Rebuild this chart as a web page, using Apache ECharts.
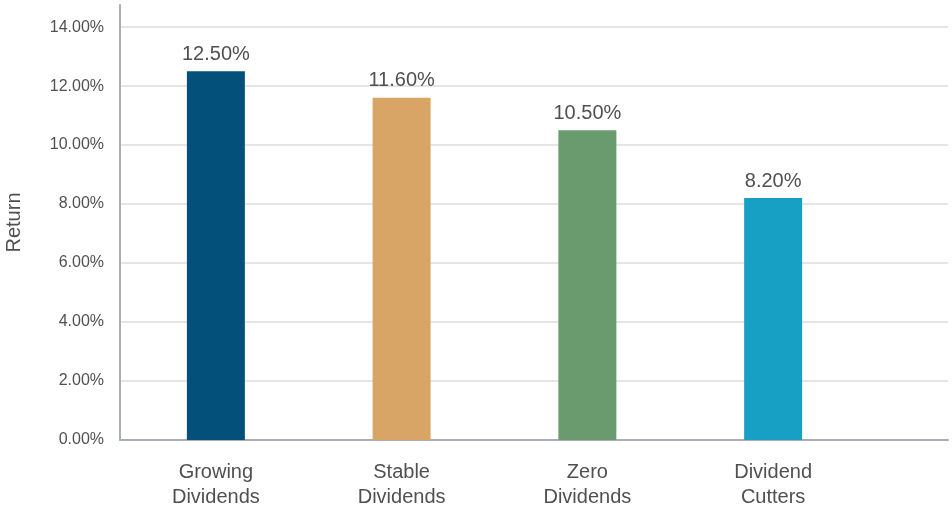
<!DOCTYPE html>
<html>
<head>
<meta charset="utf-8">
<script src="https://cdn.jsdelivr.net/npm/echarts@6/dist/echarts.min.js"></script>
<style>
  html, body { margin: 0; padding: 0; background: #fff; }
  #chart { width: 952px; height: 508px; }
</style>
</head>
<body>
<div id="chart"></div>
<script>
// Average annual return by dividend policy
const categories = ['Growing\nDividends', 'Stable\nDividends', 'Zero\nDividends', 'Dividend\nCutters'];
const returns = [12.5, 11.6, 10.5, 8.2];
const barColors = ['#03507B', '#D8A566', '#6A9B6E', '#17A0C3'];
const yTicks = [0, 2, 4, 6, 8, 10, 12, 14];

const FONT = '"Liberation Sans", Arial, sans-serif';
const TEXT = '#505050';
const AXIS = '#A9ADB5';

const chart = echarts.init(document.getElementById('chart'));

chart.setOption({
  animation: false,
  textStyle: { fontFamily: FONT },
  grid: [
    // frame: axis lines, gridlines, tick labels
    { left: 120, right: 4, top: 5, bottom: 68, containLabel: false, outerBoundsMode: 'none' },
    // bars
    { left: 123, width: 743, top: 27, bottom: 68, containLabel: false, outerBoundsMode: 'none' }
  ],
  xAxis: [
    {
      gridIndex: 0, type: 'value', min: 0, max: 1,
      axisLine: { show: true, onZero: false, lineStyle: { color: AXIS, width: 2 } },
      axisTick: { show: false }, axisLabel: { show: false }, splitLine: { show: false }
    },
    {
      gridIndex: 1, type: 'category', data: categories,
      axisLine: { show: false }, axisTick: { show: false },
      axisLabel: {
        margin: 20, color: TEXT, fontSize: 20, lineHeight: 25, fontFamily: FONT
      }
    }
  ],
  yAxis: [
    {
      gridIndex: 0, type: 'value', min: 0, max: 14.75, interval: 2,
      name: 'Return', nameLocation: 'middle', nameGap: 96, nameRotate: 90,
      nameTextStyle: { color: TEXT, fontSize: 20, fontFamily: FONT },
      axisLine: { show: true, lineStyle: { color: AXIS, width: 2 } },
      axisTick: { show: false },
      axisLabel: {
        margin: 16, color: TEXT, fontSize: 16, fontFamily: FONT,
        showMaxLabel: false,
        formatter: v => (yTicks.indexOf(v) >= 0 ? v.toFixed(2) + '%' : '')
      },
      splitLine: { show: true, showMaxLine: false, showMinLine: false, lineStyle: { color: '#DCDCDC', width: 1.5 } }
    },
    {
      gridIndex: 1, type: 'value', min: 0, max: 14, interval: 2,
      show: false, splitLine: { show: false }
    }
  ],
  series: [
    {
      type: 'bar',
      xAxisIndex: 1, yAxisIndex: 1,
      barWidth: 58,
      data: returns.map((v, i) => ({ value: v, itemStyle: { color: barColors[i] } })),
      label: {
        show: true, position: 'top', distance: 7,
        color: TEXT, fontSize: 20, fontFamily: FONT,
        formatter: p => p.value.toFixed(2) + '%'
      }
    }
  ]
});
</script>
</body>
</html>
